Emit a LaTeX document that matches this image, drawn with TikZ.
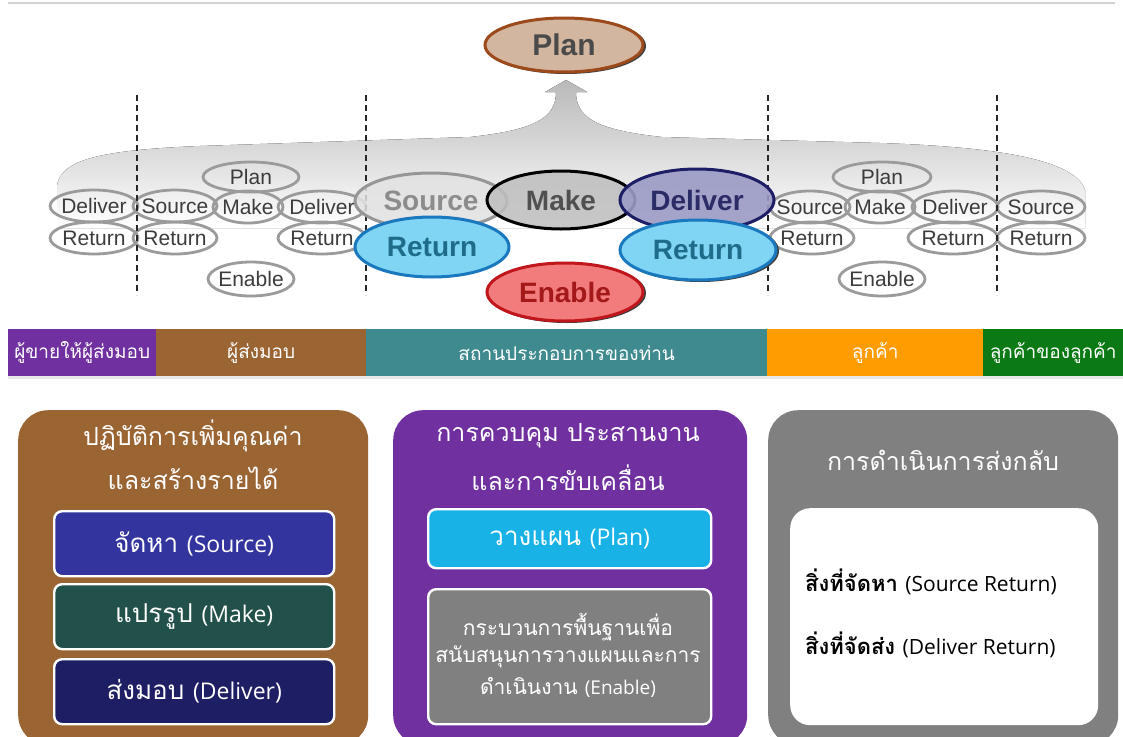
\documentclass[tikz,border=0pt]{standalone}
\usepackage{fontspec}
\usetikzlibrary{shapes.geometric}
\setmainfont{Liberation Sans}
\newfontfamily\thaifont[Script=Thai]{Loma}
\newfontfamily\latinfont{Open Sans}

\definecolor{smline}{RGB}{155,155,155}
\definecolor{smtext}{RGB}{60,60,60}
\definecolor{srcFill}{RGB}{226,226,226}
\definecolor{srcLine}{RGB}{150,150,150}
\definecolor{srcText}{RGB}{140,140,140}
\definecolor{makeFill}{RGB}{190,190,190}
\definecolor{makeText}{RGB}{80,80,80}
\definecolor{delFill}{RGB}{155,155,198}
\definecolor{delLine}{RGB}{30,30,102}
\definecolor{delText}{RGB}{43,43,102}
\definecolor{retFill}{RGB}{127,213,243}
\definecolor{retLine}{RGB}{26,120,190}
\definecolor{retText}{RGB}{30,108,138}
\definecolor{enFill}{RGB}{242,124,124}
\definecolor{enLine}{RGB}{192,22,28}
\definecolor{enText}{RGB}{163,24,24}
\definecolor{planFill}{RGB}{210,182,160}
\definecolor{planLine}{RGB}{156,74,28}
\definecolor{planText}{RGB}{74,74,74}
\definecolor{cPurple}{RGB}{112,48,160}
\definecolor{cBrown}{RGB}{154,101,51}
\definecolor{cTeal}{RGB}{62,138,143}
\definecolor{cOrange}{RGB}{255,156,0}
\definecolor{cGreen}{RGB}{11,122,20}
\definecolor{subSrc}{RGB}{51,52,158}
\definecolor{subMake}{RGB}{34,80,74}
\definecolor{subDel}{RGB}{30,30,100}
\definecolor{subPlan}{RGB}{25,178,230}
\definecolor{boxGray}{RGB}{128,128,128}

\begin{document}
\begin{tikzpicture}[x=1pt,y=-1pt,
  sm/.style={ellipse, draw=smline, line width=2.8pt, inner xsep=-12pt, inner ysep=0pt,
    text=smtext, font=\fontsize{21}{21}\selectfont},
  big/.style={ellipse, line width=3pt, inner xsep=-14pt, inner ysep=0pt,
    font=\fontsize{28}{28}\selectfont\bfseries},
  halo/.style={draw=black!75, line width=2pt},
  dashline/.style={draw=black!85, line width=1.8pt, dash pattern=on 6pt off 4pt},
  band/.style={rectangle, inner sep=0pt, minimum height=47pt, anchor=north west,
    text=white, font=\thaifont\fontsize{19}{19}\selectfont},
  panel/.style={rectangle, rounded corners=30pt, inner sep=0pt, anchor=north west},
  inbox/.style={rectangle, rounded corners=8pt, draw=white, line width=2.4pt,
    inner sep=0pt, anchor=north west},
  title/.style={text=white, inner sep=0pt, font=\thaifont\fontsize{25}{25}\selectfont},
  boxtxt/.style={text=white, inner sep=0pt, font=\thaifont\fontsize{26}{26}\selectfont},
  entxt/.style={text=white, inner sep=0pt, font=\thaifont\fontsize{21}{21}\selectfont}
]
\useasboundingbox (0,0) rectangle (1123,736);
\clip (0,0) rectangle (1123,736);
\fill[white] (0,0) rectangle (1123,736);

% thin rule along the top
\coordinate (ruleL) at (8,3);
\coordinate (ruleR) at (1115,3);
\draw[gray!35, line width=1.5pt] (ruleL) -- (ruleR);

% grey sweep rising into an arrow towards Plan
\fill[top color=gray!55, bottom color=white]
  (57,228) -- (57,186) .. controls (60,160) and (100,150) .. (200,146)
  -- (470,137) .. controls (535,130) and (556,118) .. (556,92)
  -- (545,92) -- (566,80) -- (587,92) -- (576,92)
  .. controls (576,118) and (597,130) .. (662,137)
  -- (880,143) .. controls (1000,147) and (1075,160) .. (1085,190)
  -- (1085,228) -- cycle;

% small chain of the supplier side
\node[sm, minimum width=88pt, minimum height=32pt] (lDel) at (94,206) {Deliver};
\node[sm, minimum width=88pt, minimum height=32pt] (lRet) at (94,238) {Return};
\node[sm, minimum width=84pt, minimum height=32pt] (aSrc) at (175,206) {Source};
\node[sm, minimum width=84pt, minimum height=32pt] (aSRet) at (175,238) {Return};
\node[sm, minimum width=96pt, minimum height=30pt] (aPlan) at (251,177) {Plan};
\node[sm, minimum width=70pt, minimum height=32pt] (aMake) at (248,207) {Make};
\node[sm, minimum width=88pt, minimum height=32pt] (aDel) at (322,207) {Deliver};
\node[sm, minimum width=88pt, minimum height=32pt] (aDRet) at (322,238) {Return};
\node[sm, minimum width=86pt, minimum height=34pt] (aEn) at (251,279) {Enable};

% small chain of the customer side
\node[sm, minimum width=80pt, minimum height=32pt] (cSrc) at (810,207) {Source};
\node[sm, minimum width=84pt, minimum height=32pt] (cSRet) at (812,238) {Return};
\node[sm, minimum width=98pt, minimum height=30pt] (cPlan) at (882,177) {Plan};
\node[sm, minimum width=70pt, minimum height=32pt] (cMake) at (880,207) {Make};
\node[sm, minimum width=86pt, minimum height=32pt] (cDel) at (955,207) {Deliver};
\node[sm, minimum width=90pt, minimum height=32pt] (cDRet) at (953,238) {Return};
\node[sm, minimum width=88pt, minimum height=32pt] (rSrc) at (1041,207) {Source};
\node[sm, minimum width=88pt, minimum height=32pt] (rRet) at (1041,238) {Return};
\node[sm, minimum width=86pt, minimum height=34pt] (cEn) at (882,279) {Enable};

% dashed boundaries between the partners
\foreach \n/\x in {d1/137, d2/366, d3/768, d4/997} {
  \coordinate (\n t) at (\x,95);
  \coordinate (\n b) at (\x,295);
  \draw[dashline] (\n t) -- (\n b);
}

% the company's own chain
\node[big, draw=srcLine, fill=srcFill, fill opacity=.85, text opacity=1, text=srcText,
  minimum width=152pt, minimum height=56pt] (bSrc) at (431,201) {Source};
\node[big, draw=retLine, fill=retFill, text=retText,
  minimum width=154pt, minimum height=60pt] (bSRet) at (432,247) {Return};
\node[big, draw=black, fill=makeFill, fill opacity=.85, text opacity=1, text=makeText,
  minimum width=148pt, minimum height=58pt] (bMake) at (561,200) {Make};
\node[big, draw=delLine, fill=delFill, fill opacity=.9, text opacity=1, text=delText,
  minimum width=154pt, minimum height=62pt] (bDel) at (697,200) {Deliver};
\draw[halo] ([xshift=2pt,yshift=-1pt]698,250) ellipse [x radius=78, y radius=30];
\node[big, draw=retLine, fill=retFill, text=retText,
  minimum width=156pt, minimum height=60pt] (bDRet) at (698,250) {Return};
\draw[halo] ([xshift=2pt,yshift=-1pt]565,292) ellipse [x radius=78, y radius=29];
\node[big, draw=enLine, fill=enFill, text=enText,
  minimum width=156pt, minimum height=58pt] (bEn) at (565,292) {Enable};
\draw[halo] ([xshift=2pt,yshift=-1pt]564,45) ellipse [x radius=79, y radius=27];
\node[big, draw=planLine, fill=planFill, text=planText,
  font=\fontsize{30}{30}\selectfont\bfseries,
  minimum width=158pt, minimum height=54pt] (bPlan) at (564,45) {Plan};

% partner band
\fill[gray!18] (8,376) rectangle (1123,379);
\node[band, fill=cPurple, minimum width=148pt] (bandA) at (8,329) {ผู้ขายให้ผู้ส่งมอบ};
\node[band, fill=cBrown, minimum width=210pt] (bandB) at (156,329) {ผู้ส่งมอบ};
\node[band, fill=cTeal, minimum width=401pt] (bandC) at (366,329) {สถานประกอบการของท่าน};
\node[band, fill=cOrange, minimum width=216pt] (bandD) at (767,329) {ลูกค้า};
\node[band, fill=cGreen, minimum width=140pt] (bandE) at (983,329) {ลูกค้าของลูกค้า};

% value-adding operations
\node[panel, fill=cBrown, minimum width=350pt, minimum height=335pt] (pOps) at (18,410) {};
\node[title] (tOps1) at (193,436) {ปฏิบัติการเพิ่มคุณค่า};
\node[title] (tOps2) at (193,478) {และสร้างรายได้};
\node[inbox, fill=subSrc, minimum width=280pt, minimum height=65pt] (iSrc) at (53,510) {};
\node[boxtxt] at (iSrc.center) {จัดหา {\latinfont\fontsize{23}{23}\selectfont (Source)}};
\node[inbox, fill=subMake, minimum width=280pt, minimum height=65pt] (iMake) at (53,583) {};
\node[boxtxt] at (iMake.center) {แปรรูป {\latinfont\fontsize{23}{23}\selectfont (Make)}};
\node[inbox, fill=subDel, minimum width=280pt, minimum height=65pt] (iDel) at (53,658) {};
\node[boxtxt] at (iDel.center) {ส่งมอบ {\latinfont\fontsize{23}{23}\selectfont (Deliver)}};

% control, coordination and enabling
\node[panel, fill=cPurple, minimum width=354pt, minimum height=335pt] (pCtl) at (393,410) {};
\node[title] (tCtl1) at (568,436) {การควบคุม ประสานงาน};
\node[title] (tCtl2) at (568,478) {และการขับเคลื่อน};
\node[inbox, fill=subPlan, minimum width=283pt, minimum height=59pt] (iPlan) at (427,508) {};
\node[boxtxt] at (iPlan.center) {วางแผน {\latinfont\fontsize{23}{23}\selectfont (Plan)}};
\node[inbox, fill=boxGray, minimum width=283pt, minimum height=135pt] (iEn) at (427,588) {};
\node[entxt] (en1) at (568,627) {กระบวนการพื้นฐานเพื่อ};
\node[entxt] (en2) at (568,657) {สนับสนุนการวางแผนและการ};
\node[entxt] (en3) at (568,687) {ดำเนินงาน {\latinfont\fontsize{19}{19}\selectfont (Enable)}};

% returns
\node[panel, fill=boxGray, minimum width=350pt, minimum height=335pt] (pRet) at (768,410) {};
\node[title] (tRet) at (943,460) {การดำเนินการส่งกลับ};
\node[rectangle, rounded corners=20pt, fill=white, inner sep=0pt, anchor=north west,
  minimum width=308pt, minimum height=217pt] (iRet) at (790,508) {};
\node[anchor=west, inner sep=0pt, font=\thaifont\fontsize{22}{22}\selectfont\bfseries]
  (rSrcTxt) at (805,582) {สิ่งที่จัดหา {\latinfont\mdseries\fontsize{21}{21}\selectfont (Source Return)}};
\node[anchor=west, inner sep=0pt, font=\thaifont\fontsize{22}{22}\selectfont\bfseries]
  (rDelTxt) at (805,645) {สิ่งที่จัดส่ง {\latinfont\mdseries\fontsize{21}{21}\selectfont (Deliver Return)}};
\end{tikzpicture}
\end{document}
